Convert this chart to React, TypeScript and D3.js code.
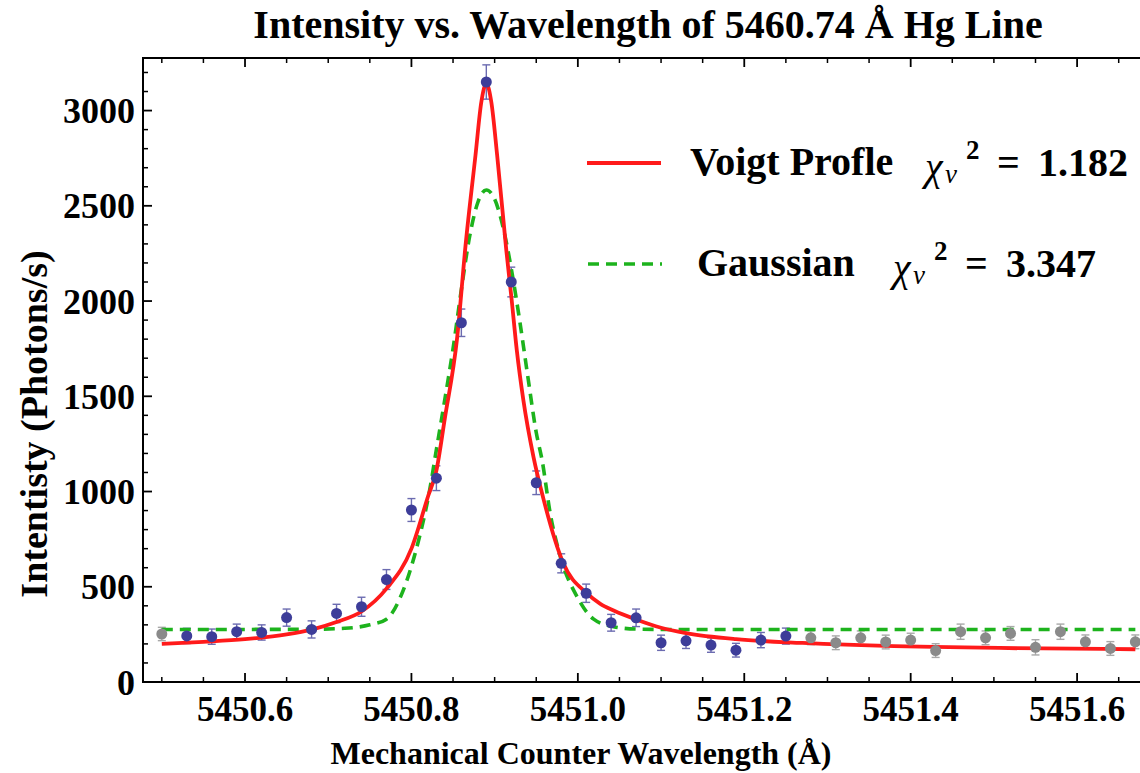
import React from "react";
import * as d3 from "d3";

// ---- data ----
const pointX = [
  5450.5, 5450.53, 5450.56, 5450.59, 5450.62, 5450.65, 5450.68, 5450.71, 5450.74, 5450.77,
  5450.8, 5450.83, 5450.86, 5450.89, 5450.92, 5450.95, 5450.98, 5451.01, 5451.04, 5451.07,
  5451.1, 5451.13, 5451.16, 5451.19, 5451.22, 5451.25, 5451.28, 5451.31, 5451.34, 5451.37,
  5451.4, 5451.43, 5451.46, 5451.49, 5451.52, 5451.55, 5451.58, 5451.61, 5451.64, 5451.67,
];
const pointY = [
  252, 242, 238, 264, 260, 338, 276, 360, 395, 538,
  903, 1070, 1886, 3150, 2100, 1046, 623, 466, 311, 337,
  206, 216, 194, 167, 220, 241, 232, 206, 232, 210,
  220, 165, 264, 232, 255, 182, 264, 211, 176, 211,
];
const pointErr = [
  35, 40, 40, 40, 40, 45, 45, 48, 50, 52,
  60, 65, 72, 90, 78, 62, 50, 48, 44, 46,
  40, 40, 38, 36, 40, 42, 36, 36, 36, 36,
  36, 36, 40, 36, 36, 40, 40, 36, 36, 36,
];
// true = used in fit (blue), false = excluded (gray)
const pointUsed = pointX.map((_, i) => i >= 1 && i <= 25);

const voigtX = [
  5450.5, 5450.55, 5450.6, 5450.65, 5450.68, 5450.71, 5450.74, 5450.77, 5450.8, 5450.82,
  5450.83, 5450.84, 5450.855, 5450.865, 5450.877, 5450.884, 5450.89, 5450.896, 5450.903, 5450.914,
  5450.9205, 5450.9266, 5450.9345, 5450.9466, 5450.9585, 5450.9826, 5451.0107, 5451.027, 5451.043, 5451.07,
  5451.1, 5451.13, 5451.19, 5451.27, 5451.38, 5451.67,
];
const voigtY = [
  200, 211, 225, 250, 275, 315, 370, 490, 700, 975,
  1110, 1380, 1810, 2290, 2766, 3045, 3142, 3045, 2766, 2268,
  2005, 1743, 1480, 1183, 964, 623, 466, 410, 375, 328,
  285, 257, 225, 205, 188, 172,
];

const gaussX = [
  5450.5, 5450.6, 5450.68, 5450.72, 5450.75, 5450.77, 5450.79, 5450.806, 5450.822, 5450.83,
  5450.84, 5450.85, 5450.86, 5450.87, 5450.88, 5450.89, 5450.9, 5450.91, 5450.92, 5450.93,
  5450.94, 5450.95, 5450.957, 5450.967, 5450.979, 5450.999, 5451.019, 5451.043, 5451.07, 5451.1,
  5451.67,
];
const gaussY = [
  276, 276, 277, 282, 300, 330, 480, 700, 1010, 1220,
  1480, 1750, 2060, 2340, 2520, 2583, 2535, 2390, 2170, 1900,
  1600, 1310, 1165, 880, 658, 448, 330, 290, 278, 276,
  276,
];

const xMajorTicks = [5450.6, 5450.8, 5451.0, 5451.2, 5451.4, 5451.6];
const xTickLabels = ["5450.6", "5450.8", "5451.0", "5451.2", "5451.4", "5451.6"];
const xMinorTicks = [5450.5, 5450.55, 5450.65, 5450.7, 5450.75, 5450.85, 5450.9, 5450.95, 5451.05, 5451.1, 5451.15, 5451.25, 5451.3, 5451.35, 5451.45, 5451.5, 5451.55, 5451.65];
const yMajorTicks = [0, 500, 1000, 1500, 2000, 2500, 3000];
const yTickLabels = ["0", "500", "1000", "1500", "2000", "2500", "3000"];
const yMinorTicks = [100, 200, 300, 400, 600, 700, 800, 900, 1100, 1200, 1300, 1400, 1600, 1700, 1800, 1900, 2100, 2200, 2300, 2400, 2600, 2700, 2800, 2900, 3100, 3200];

const legendNames = ["Voigt Profle", "Gaussian"];
const legendChi = ["1.182", "3.347"];

const X_DOMAIN = [5450.4774, 5451.678];
const Y_DOMAIN = [0, 3276];

const W = 1140;
const H = 773;
const L = 143, R = 1142, T = 58, B = 682;

const FONT = "'Liberation Serif', 'Times New Roman', serif";
const BLUE = "#3d3d99";
const GRAY = "#8a8a8a";
const RED = "#ff1a1a";
const GREEN = "#1db31d";

function Chi({ x0, yb, value }: { x0: number; yb: number; value: string }) {
  return (
    <g fontFamily={FONT}>
      <text x={x0} y={yb + 4} fontStyle="italic" fontSize={40}>χ</text>
      <text x={x0 + 20} y={yb + 7} fontStyle="italic" fontSize={27}>ν</text>
      <text x={x0 + 41} y={yb - 17} fontWeight="bold" fontSize={27}>2</text>
      <text x={x0 + 72} y={yb} fontWeight="bold" fontSize={40}>=</text>
      <text x={x0 + 113} y={yb} fontWeight="bold" fontSize={40}>{value}</text>
    </g>
  );
}

export default function App() {
  const x = d3.scaleLinear().domain(X_DOMAIN).range([L, R]);
  const y = d3.scaleLinear().domain(Y_DOMAIN).range([B, T]);

  const line = d3
    .line<[number, number]>()
    .x((d) => x(d[0]))
    .y((d) => y(d[1]))
    .curve(d3.curveMonotoneX);

  const voigtPath = line(voigtX.map((v, i) => [v, voigtY[i]]) as [number, number][]) || "";
  const gaussPath = line(gaussX.map((v, i) => [v, gaussY[i]]) as [number, number][]) || "";

  return (
    <svg width={W} height={H} style={{ position: "absolute", left: 0, top: 0, background: "#fff" }}>
      <defs>
        <clipPath id="plotclip">
          <rect x={L} y={T} width={R - L} height={B - T} />
        </clipPath>
      </defs>
      {/* title */}
      <text x={648} y={38} textAnchor="middle" fontFamily={FONT} fontWeight="bold" fontSize={40}>
        Intensity vs. Wavelength of 5460.74 Å Hg Line
      </text>

      {/* frame */}
      <rect x={L} y={T} width={R - L} height={B - T} fill="none" stroke="#000" strokeWidth={2} />

      {/* x ticks */}
      {xMajorTicks.map((t) => (
        <g key={"xM" + t}>
          <line x1={x(t)} x2={x(t)} y1={B} y2={B - 9} stroke="#000" strokeWidth={1.8} />
          <line x1={x(t)} x2={x(t)} y1={T} y2={T + 9} stroke="#000" strokeWidth={1.8} />
        </g>
      ))}
      {xMinorTicks.map((t) => (
        <g key={"xm" + t}>
          <line x1={x(t)} x2={x(t)} y1={B} y2={B - 5} stroke="#000" strokeWidth={1.5} />
          <line x1={x(t)} x2={x(t)} y1={T} y2={T + 5} stroke="#000" strokeWidth={1.5} />
        </g>
      ))}
      {xMajorTicks.map((t, i) => (
        <text key={"xl" + t} x={x(t)} y={721} textAnchor="middle" fontFamily={FONT} fontWeight="bold" fontSize={35}>
          {xTickLabels[i]}
        </text>
      ))}

      {/* y ticks */}
      {yMajorTicks.map((t) => (
        <line key={"yM" + t} x1={L} x2={L + 9} y1={y(t)} y2={y(t)} stroke="#000" strokeWidth={1.8} />
      ))}
      {yMinorTicks.map((t) => (
        <line key={"ym" + t} x1={L} x2={L + 5} y1={y(t)} y2={y(t)} stroke="#000" strokeWidth={1.5} />
      ))}
      {yMajorTicks.map((t, i) => (
        <text key={"yl" + t} x={135} y={y(t)} dy="0.35em" textAnchor="end" fontFamily={FONT} fontWeight="bold" fontSize={36}>
          {yTickLabels[i]}
        </text>
      ))}

      {/* axis labels */}
      <text x={581} y={764} textAnchor="middle" fontFamily={FONT} fontWeight="bold" fontSize={32}>
        Mechanical Counter Wavelength (Å)
      </text>
      <text
        transform={`translate(47, 424) rotate(-90)`}
        textAnchor="middle"
        fontFamily={FONT}
        fontWeight="bold"
        fontSize={38}
      >
        Intentisty (Photons/s)
      </text>

      <g clipPath="url(#plotclip)">
        {/* error bars */}
        {pointX.map((px, i) => {
          const bc = pointUsed[i] ? "#6b6bb0" : "#a8a8a8";
          const cx = x(px);
          const y1 = y(pointY[i] - pointErr[i]);
          const y2 = y(pointY[i] + pointErr[i]);
          return (
            <g key={"p" + i}>
              <line x1={cx} x2={cx} y1={y1} y2={y2} stroke={bc} strokeWidth={1.4} />
              <line x1={cx - 4} x2={cx + 4} y1={y1} y2={y1} stroke={bc} strokeWidth={1.4} />
              <line x1={cx - 4} x2={cx + 4} y1={y2} y2={y2} stroke={bc} strokeWidth={1.4} />
            </g>
          );
        })}
        {/* curves */}
        <path d={gaussPath} fill="none" stroke={GREEN} strokeWidth={3.6} strokeDasharray="11,7" />
        <path d={voigtPath} fill="none" stroke={RED} strokeWidth={3.8} />
        {pointX.map((px, i) => (
          <circle key={"c" + i} cx={x(px)} cy={y(pointY[i])} r={5.5} fill={pointUsed[i] ? BLUE : GRAY} />
        ))}
      </g>

      {/* legend */}
      <line x1={587} x2={661} y1={163} y2={163} stroke={RED} strokeWidth={4} />
      <text x={690} y={175} fontFamily={FONT} fontWeight="bold" fontSize={40}>
        {legendNames[0]}
      </text>
      <Chi x0={925} yb={176} value={legendChi[0]} />

      <line x1={588} x2={662} y1={264} y2={264} stroke={GREEN} strokeWidth={3.6} strokeDasharray="11,7" />
      <text x={697} y={276} fontFamily={FONT} fontWeight="bold" fontSize={40}>
        {legendNames[1]}
      </text>
      <Chi x0={893} yb={277} value={legendChi[1]} />
    </svg>
  );
}
